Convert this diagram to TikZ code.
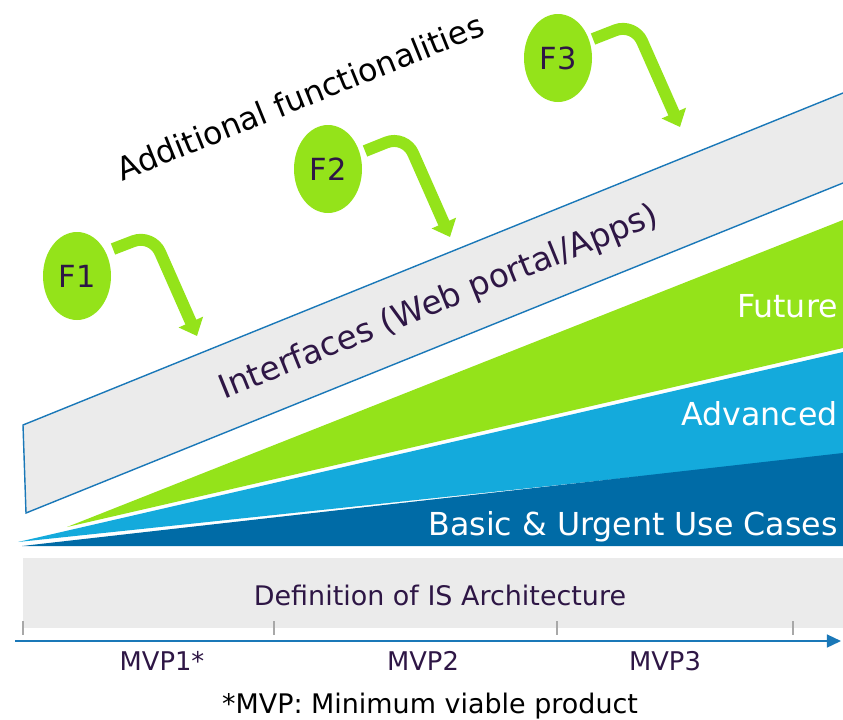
\documentclass[tikz,border=0pt]{standalone}
\usepackage{fontspec}
\setmainfont{DejaVu Sans}
\usetikzlibrary{shapes.geometric,arrows.meta}

\definecolor{fgreen}{HTML}{94E31A}
\definecolor{lblue}{HTML}{14AADC}
\definecolor{dblue}{HTML}{006BA6}
\definecolor{bandgray}{HTML}{EBEBEB}
\definecolor{edgeblue}{HTML}{1A78B8}
\definecolor{ticgray}{HTML}{A8A8A8}
\definecolor{darkpurple}{HTML}{2E1645}

\newcommand{\fs}[1]{\fontsize{#1}{#1}\selectfont}

\begin{document}
\begin{tikzpicture}[x=0.03cm,y=-0.03cm,
  lbl/.style={inner sep=0pt,text=darkpurple},
  wlbl/.style={inner sep=0pt,text=white,font=\fs{27},anchor=base east},
  fbubble/.style={ellipse,fill=fgreen,minimum width=2.04cm,minimum height=2.64cm,inner sep=0pt,text=darkpurple,font=\fs{26}},
  farrow/.style={draw=fgreen,line width=10.2pt,rounded corners=17pt,-{Triangle[width=22pt,length=13pt]}},
  tic/.style={draw=ticgray,line width=1.6pt}]
\useasboundingbox (0,0) rectangle (843,719);

% wedges
\fill[fgreen] (67,527) -- (843,220) -- (843,348) -- cycle;
\fill[lblue] (18,542) -- (843,352) -- (843,455) -- cycle;
\fill[dblue] (22,546) -- (843,453) -- (843,546) -- cycle;
\node[wlbl] (future) at (838,317) {Future};
\node[wlbl] (adv) at (838,425) {Advanced};
\node[wlbl] (basic) at (838,535) {Basic \& Urgent Use Cases};

% interfaces band
\fill[bandgray] (23,425) -- (843,93) -- (843,183) -- (26,513) -- cycle;
\draw[edgeblue,line width=1.2pt] (843,93) -- (23,425) -- (26,513) -- (843,183);
\node[lbl,rotate=22,font=\fs{28}] (intf) at (439,303) {Interfaces (Web portal/Apps)};
\node[inner sep=0pt,rotate=22,font=\fs{27}] (addf) at (300,97) {Additional functionalities};

% functionalities
\node[fbubble] (f1) at (77,276) {F1};
\node[fbubble] (f2) at (328,169) {F2};
\node[fbubble] (f3) at (558,58) {F3};
\coordinate (s1) at (113,249); \coordinate (c1) at (152,234); \coordinate (t1) at (197,336);
\coordinate (s2) at (365,151); \coordinate (c2) at (405,135); \coordinate (t2) at (450,237);
\coordinate (s3) at (593,39);  \coordinate (c3) at (634,23);  \coordinate (t3) at (680,127);
\draw[farrow] (s1) -- (c1) -- (t1);
\draw[farrow] (s2) -- (c2) -- (t2);
\draw[farrow] (s3) -- (c3) -- (t3);

% architecture and time line
\fill[bandgray] (23,558) rectangle (843,628);
\node[lbl,font=\fs{23},anchor=base] (arch) at (440,605) {Definition of IS Architecture};
\foreach \x in {23,274,557,793}
  \draw[tic] (\x,621) -- (\x,635);
\coordinate (ax0) at (15,641);
\coordinate (ax1) at (841,641);
\draw[edgeblue,line width=1.6pt,-{Triangle[width=11pt,length=12pt]}] (ax0) -- (ax1);
\node[lbl,font=\fs{22},anchor=base] (mvp1) at (162,670) {MVP1*};
\node[lbl,font=\fs{22},anchor=base] (mvp2) at (423,670) {MVP2};
\node[lbl,font=\fs{22},anchor=base] (mvp3) at (665,670) {MVP3};
\node[inner sep=0pt,font=\fs{23},anchor=base] (note) at (430,713) {*MVP: Minimum viable product};
\end{tikzpicture}
\end{document}
